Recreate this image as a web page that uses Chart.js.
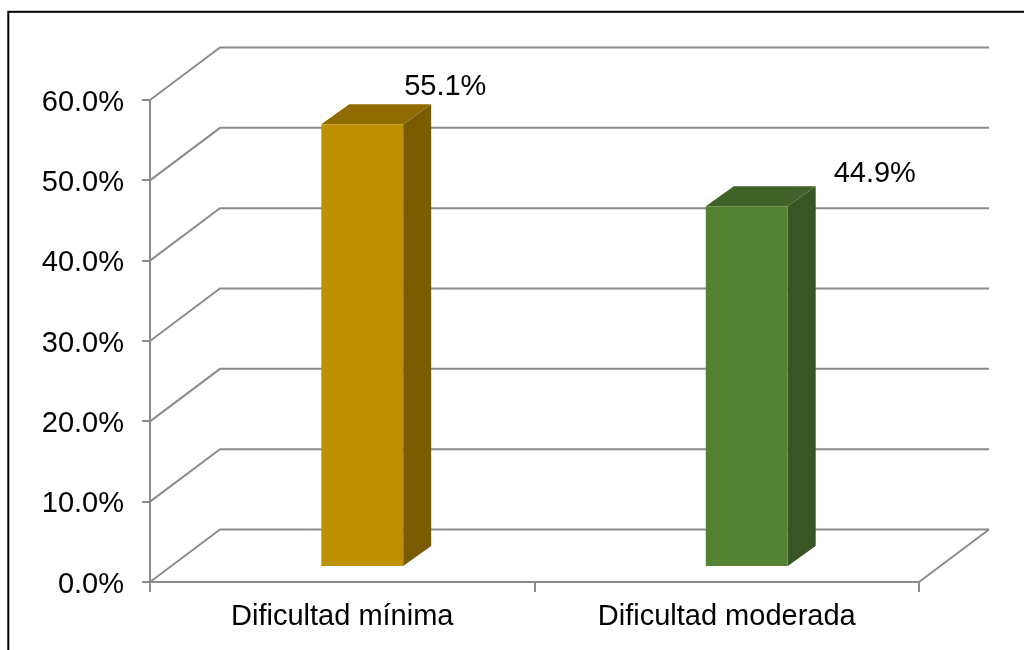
<!DOCTYPE html>
<html>
<head>
<meta charset="utf-8">
<script src="https://cdn.jsdelivr.net/npm/chart.js@4"></script>
<style>
  html, body { margin: 0; padding: 0; background: #ffffff; }
  #wrap { width: 1024px; height: 650px; position: relative; }
</style>
</head>
<body>
<div id="wrap"><canvas id="chart" width="1024" height="650"></canvas></div>
<script>
// Data
const categories = ['Dificultad mínima', 'Dificultad moderada'];
const percentages = [55.1, 44.9];
const yTicks = [0, 10, 20, 30, 40, 50, 60];

// Bar face colours (front, top, side)
const faceColors = ['#BF9000', '#548235'];
const topColors = ['#8E6C00', '#3F6229'];
const sideColors = ['#7A5C00', '#375623'];

// 3D look: depth offsets of the back wall and of the bar's front/back planes
const GRID = '#8c8c8c';
const WALL = { dx: 70, dy: -52.5 };
const FRONT = { dx: 20, dy: -15 };
const BACK = { dx: 48, dy: -35 };
const labelShift = [{ x: 83, y: -17 }, { x: 128, y: -12 }];
const FONT = { family: "'Liberation Sans', Arial, sans-serif", size: 29 };

const box3d = {
  id: 'box3d',
  beforeDatasetsDraw(chart) {
    const { ctx, chartArea: a, scales: { y } } = chart;
    ctx.save();
    // back wall gridlines with the diagonal side wall, plus the floor edge
    ctx.strokeStyle = GRID;
    ctx.lineWidth = 2;
    ctx.beginPath();
    yTicks.forEach(v => {
      const py = y.getPixelForValue(v);
      ctx.moveTo(a.left, py);
      ctx.lineTo(a.left + WALL.dx, py + WALL.dy);
      ctx.lineTo(a.right + WALL.dx, py + WALL.dy);
    });
    const by = y.getPixelForValue(0);
    ctx.moveTo(a.right, by);
    ctx.lineTo(a.right + WALL.dx, by + WALL.dy);
    ctx.stroke();

    // side and top faces of each bar
    const ox = BACK.dx - FRONT.dx, oy = BACK.dy - FRONT.dy;
    chart.getDatasetMeta(0).data.forEach((bar, i) => {
      const half = bar.width / 2;
      const l = bar.x - half + FRONT.dx, r = bar.x + half + FRONT.dx;
      const t = bar.y + FRONT.dy, b = bar.base + FRONT.dy;
      ctx.fillStyle = sideColors[i];
      ctx.beginPath();
      ctx.moveTo(r, t); ctx.lineTo(r + ox, t + oy); ctx.lineTo(r + ox, b + oy); ctx.lineTo(r, b);
      ctx.closePath(); ctx.fill();
      ctx.fillStyle = topColors[i];
      ctx.beginPath();
      ctx.moveTo(l, t); ctx.lineTo(l + ox, t + oy); ctx.lineTo(r + ox, t + oy); ctx.lineTo(r, t);
      ctx.closePath(); ctx.fill();
    });
    ctx.restore();
    // front faces are drawn by Chart.js, pushed onto the front plane
    ctx.save();
    ctx.translate(FRONT.dx, FRONT.dy);
  },
  afterDatasetsDraw(chart) {
    const ctx = chart.ctx;
    ctx.restore();
    ctx.save();
    ctx.fillStyle = '#000000';
    ctx.font = FONT.size + 'px ' + FONT.family;
    ctx.textAlign = 'center';
    ctx.textBaseline = 'middle';
    chart.getDatasetMeta(0).data.forEach((bar, i) => {
      const s = labelShift[i];
      ctx.fillText(percentages[i].toFixed(1) + '%', bar.x + FRONT.dx + s.x, bar.y + BACK.dy + s.y);
    });
    ctx.restore();
  },
  afterDraw(chart) {
    const ctx = chart.ctx;
    ctx.save();
    ctx.strokeStyle = '#000000';
    ctx.lineWidth = 2;
    ctx.strokeRect(8.3, 11.8, 1200, 800);
    ctx.restore();
  }
};

new Chart(document.getElementById('chart'), {
  type: 'bar',
  data: {
    labels: categories,
    datasets: [{
      data: percentages,
      backgroundColor: faceColors,
      borderWidth: 0,
      barPercentage: 0.213,
      categoryPercentage: 1
    }]
  },
  options: {
    responsive: false,
    animation: false,
    events: [],
    layout: { padding: { top: 100, right: 105, left: 0, bottom: 0 } },
    plugins: { legend: { display: false }, tooltip: { enabled: false } },
    scales: {
      x: {
        type: 'category',
        grid: { drawOnChartArea: false, color: GRID, lineWidth: 2, tickLength: 10, offset: true },
        border: { color: GRID, width: 2 },
        ticks: { color: '#000000', font: FONT, padding: 7.5, maxRotation: 0, autoSkip: false },
        afterFit(s) { s.height = 68; }
      },
      y: {
        min: 0,
        max: 60,
        afterBuildTicks(s) { s.ticks = yTicks.map(v => ({ value: v })); },
        grid: { drawOnChartArea: false, color: GRID, lineWidth: 2, tickLength: 8 },
        border: { color: GRID, width: 2 },
        ticks: {
          color: '#000000', font: FONT, padding: 18, labelOffset: 2.5,
          callback: v => Number(v).toFixed(1) + '%'
        },
        afterFit(s) { s.width = 150; }
      }
    }
  },
  plugins: [box3d]
});
</script>
</body>
</html>
